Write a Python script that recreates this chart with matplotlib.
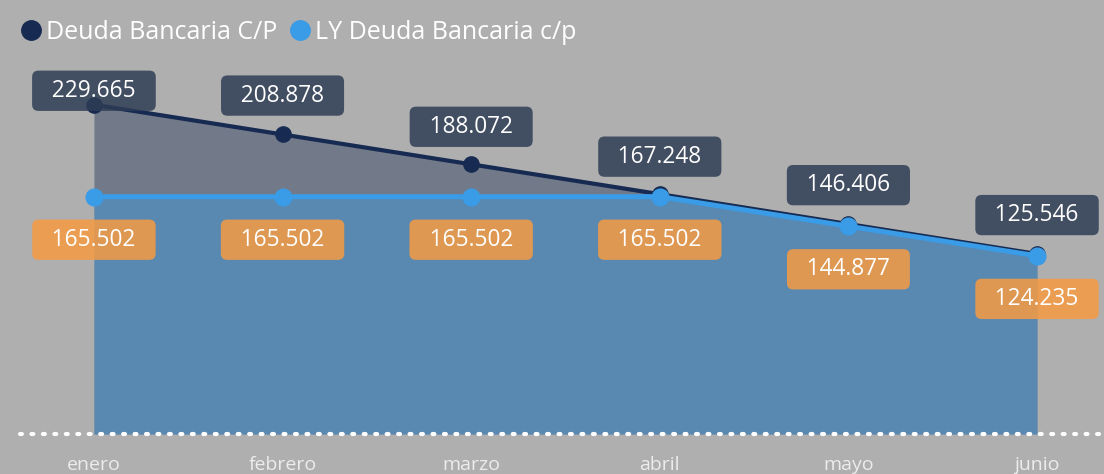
import matplotlib.pyplot as plt

# data
months = ['enero', 'febrero', 'marzo', 'abril', 'mayo', 'junio']
deuda = [229.665, 208.878, 188.072, 167.248, 146.406, 125.546]
deuda_ly = [165.502, 165.502, 165.502, 165.502, 144.877, 124.235]

navy = '#172b52'
light = '#3a9be6'
bg = '#afafaf'

plt.rcParams['font.family'] = ['Open Sans', 'DejaVu Sans']

fig = plt.figure(figsize=(11.04, 4.74), dpi=100, facecolor=bg)
ax = fig.add_axes([0, 40 / 474, 1, 374 / 474])
ax.set_facecolor(bg)

x = list(range(len(months)))

# areas
ax.fill_between(x, 0, deuda, color=navy, alpha=0.4, lw=0)
ax.fill_between(x, 0, deuda_ly, color=light, alpha=0.44, lw=0)

# lines
ax.plot(x, deuda, color=navy, lw=3, marker='o', ms=11, zorder=4)
ax.plot(x, deuda_ly, color=light, lw=3.6, marker='o', ms=12, zorder=5)

# dotted baseline
ax.plot([-0.39, 5.4], [0, 0], color='white', lw=3, linestyle=(0, (0.45, 2.3)),
        dash_capstyle='round', zorder=6, clip_on=False)

ax.set_xlim(-0.498, 5.355)
ax.set_ylim(0, 260.8)

# data labels (offsets in points, positive = up)
top_off = [10, 28, 27, 27, 28, 28]
box = 'round,pad=0.36,rounding_size=0.28'
for i, v in enumerate(deuda):
    ax.annotate(f'  {v:.3f}  ', (i, v), xytext=(0, top_off[i]), textcoords='offset points',
                ha='center', va='center', color='white', fontsize=16.3, zorder=7,
                bbox=dict(boxstyle=box, fc='#2f3d55', ec='none', alpha=0.85))
for i, v in enumerate(deuda_ly):
    ax.annotate(f'  {v:.3f}  ', (i, v), xytext=(0, -31), textcoords='offset points',
                ha='center', va='center', color='white', fontsize=16.3, zorder=7,
                bbox=dict(boxstyle=box, fc='#f69b42', ec='none', alpha=0.85))

ax.set_xticks(x)
ax.set_xticklabels(months, color='#ececec', fontsize=14)
ax.tick_params(axis='x', length=0, pad=16)
ax.set_yticks([])
for s in ax.spines.values():
    s.set_visible(False)

# legend
h1, = ax.plot([], [], 'o', color=navy, ms=14, label='Deuda Bancaria C/P')
h2, = ax.plot([], [], 'o', color=light, ms=14, label='LY Deuda Bancaria c/p')
fig.legend(handles=[h1, h2], loc='center left', bbox_to_anchor=(0.01, 0.932),
           ncol=2, frameon=False, fontsize=18, labelcolor='white', borderaxespad=0,
           handletextpad=0.2, columnspacing=0.52, handlelength=0.8)

plt.savefig('out.png', dpi=100, facecolor=bg)
